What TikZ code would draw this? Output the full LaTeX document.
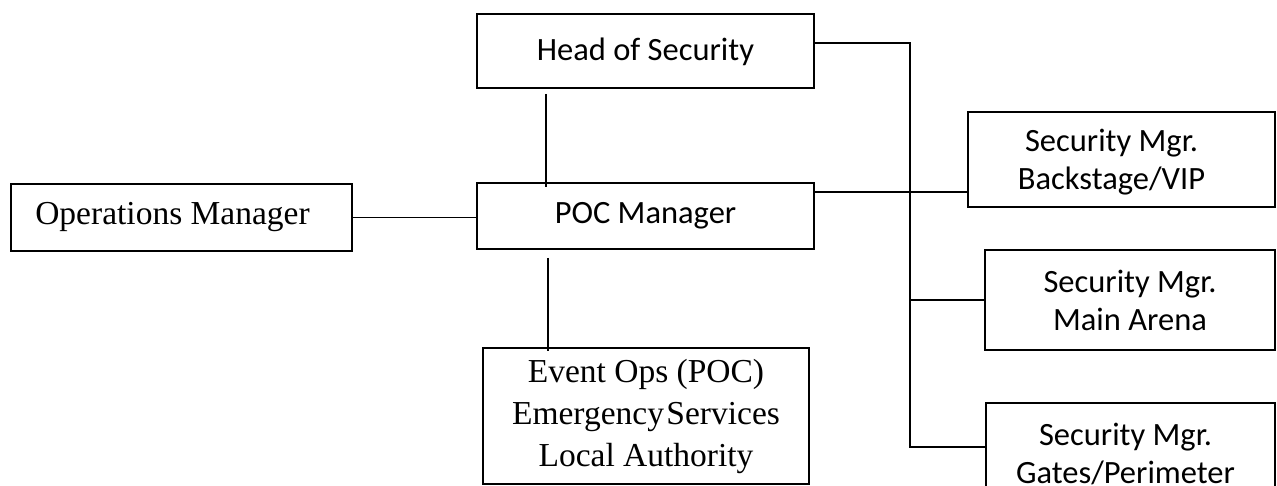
\documentclass[tikz,border=0pt]{standalone}
\usepackage{fontspec}
\setmainfont{Liberation Serif}
\newfontfamily\carlito{Carlito}
\usetikzlibrary{calc}
\begin{document}
\begin{tikzpicture}[x=1pt,y=-1pt,
  box/.style={draw,line width=2pt,rectangle,inner sep=0pt},
  sans/.style={font=\carlito\fontsize{32.5}{38}\selectfont},
  serif/.style={font=\fontsize{33.5}{42}\selectfont},
  conn/.style={line width=1.4pt}]
\useasboundingbox (0,0) rectangle (1277,486);
\clip (0,0) rectangle (1277,486);
\fill[white] (0,0) rectangle (1277,486);

\node[box,sans,minimum width=337pt,minimum height=74pt,text depth=3pt] (hos) at (645.5,51) {Head of Security};
\node[box,sans,minimum width=337pt,minimum height=66pt] (poc) at (645.5,216) {POC Manager};
\node[box,serif,minimum width=341pt,minimum height=67pt] (ops) at (181.5,217.5) {Operations Manager\hspace*{18pt}};
\node[box,serif,align=center,minimum width=326pt,minimum height=136pt] (evt) at (646,416) {Event Ops (POC)\\Emergency\hspace{2.5pt}Services\\Local Authority};
\node[box,sans,align=center,minimum width=307pt,minimum height=95pt,text depth=-4pt] (bvip) at (1121.5,159.5) {Security Mgr.\hspace*{20pt}\\Backstage/VIP\hspace*{20pt}};
\node[box,sans,align=center,minimum width=290pt,minimum height=100pt] (arena) at (1130,300) {Security Mgr.\\Main Arena};
\node[box,sans,align=center,minimum width=289pt,minimum height=100pt,text depth=0pt] (gates) at (1130.5,453) {Security Mgr.\hspace*{10pt}\\Gates/Perimeter\hspace*{10pt}};

\coordinate (tt) at (910,43);
\coordinate (tb) at (910,447);
\draw[conn] ([yshift=8pt]hos.east) -- (tt) -- (tb) -- (tb -| gates.west);
\draw[conn] ([yshift=24pt]poc.east) -- ([yshift=24pt]poc.east -| bvip.west);
\draw[conn] (tt |- arena.west) -- (arena.west);
\draw[conn] (ops.east) -- (ops.east -| poc.west);
\draw[conn] ([xshift=-99.5pt,yshift=-5pt]hos.south) -- ([xshift=-99.5pt,yshift=-5pt]poc.north);
\draw[conn] ([xshift=-97.5pt,yshift=-8pt]poc.south) -- ([xshift=-98pt,yshift=-4pt]evt.north);
\end{tikzpicture}
\end{document}
